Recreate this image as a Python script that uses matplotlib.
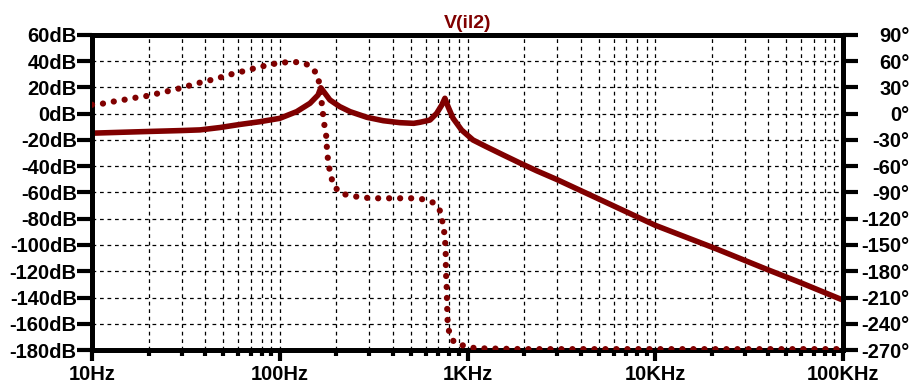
import numpy as np
import matplotlib.pyplot as plt
from matplotlib.ticker import FixedLocator, NullFormatter

plt.rcParams['font.family'] = ['Liberation Sans', 'DejaVu Sans']
plt.rcParams['font.weight'] = 'bold'

# magnitude V(il2), dB
mag_f = [10, 20, 30, 37.6, 48, 61, 78, 100, 123, 145, 160, 165.5,
         185, 209, 237, 291, 356, 437, 517, 558, 631, 685, 730, 758, 788, 838, 930,
         1070, 1255, 1550, 1900, 2340, 2980, 5100, 10000, 21200, 39200, 59000, 100000]
mag_db = [-14.8, -13.5, -12.8, -12.3, -10.5, -8.2, -6.1, -3.5, 1.6, 8, 14.3, 19.8,
          10.5, 5.4, 1.6, -2.7, -5.3, -6.8, -7.3, -6.5, -4.8, 0.3, 6.7, 11.8, 5.4, -3.5, -12.4,
          -20, -25, -31.4, -37.5, -43.5, -50, -65.5, -85, -103, -118.5, -128.5, -142]

# phase, degrees
ph_f = [10, 11.35, 12.9, 14.6, 16.6, 18.8, 21.4, 24.3, 27.5, 31.2, 35.5, 40.4, 45.7,
        51.9, 59, 67, 76, 86.5, 98, 111, 126, 143, 159, 164, 167, 172, 176.5, 178,
        181, 186, 193, 210, 242, 273, 308, 353, 400, 451, 518, 583, 658, 713, 742,
        758, 765, 768, 774, 779, 783, 799, 850, 967, 1101, 2000, 5000, 10000,
        30000, 100000]
ph_deg = [10.3, 11.5, 13.8, 15.7, 18, 19.5, 22.2, 24.9, 27.5, 30.6, 34.3, 37.1, 40,
          43.5, 46.9, 49.5, 53, 55.5, 58, 59, 59, 55.7, 45, 29, 13.8, -10.2, -23.5, -36.9,
          -54.8, -68.5, -81.4, -90.9, -94, -95.5, -96.6, -96.6, -96.6, -96.6, -96.6,
          -97.8, -101.6, -110.8, -127, -141, -157.7, -181.7, -195.7, -220.5, -235.7,
          -250.2, -261.7, -265.4, -268, -269, -269, -269, -269, -269]

dark_red = '#800000'

fig = plt.figure(figsize=(9.09, 3.85), dpi=100)
ax = fig.add_axes([92 / 909, 1 - 350 / 385, 751 / 909, 315 / 385])
ax2 = ax.twinx()

ax.semilogx(mag_f, mag_db, color=dark_red, lw=4.0, solid_capstyle='round',
            solid_joinstyle='round', zorder=3)
ax2.semilogx(ph_f, ph_deg, color=dark_red, lw=4.5, linestyle=(0, (0.01, 1.75)),
             dash_capstyle='round', zorder=3)

ax.set_xlim(10, 100000)
ax.set_ylim(-180, 60)
ax2.set_ylim(-270, 90)

ax.set_xticks([10, 100, 1000, 10000, 100000])
ax.set_xticklabels(['10Hz', '100Hz', '1KHz', '10KHz', '100KHz'])
minors = [d * m for d in [10, 100, 1000, 10000] for m in range(2, 10)]
ax.xaxis.set_minor_locator(FixedLocator(minors))
ax.xaxis.set_minor_formatter(NullFormatter())

db_ticks = np.arange(-180, 61, 20)
ax.set_yticks(db_ticks)
ax.set_yticklabels([f'{v}dB' for v in db_ticks])
ph_ticks = np.arange(-270, 91, 30)
ax2.set_yticks(ph_ticks)
ax2.set_yticklabels([f'{v}°' for v in ph_ticks])

ax.grid(True, which='both', axis='x', color='black', lw=0.9, linestyle=(0, (3, 3)))
ax.grid(True, which='major', axis='y', color='black', lw=0.9, linestyle=(0, (3, 3)))

for a in (ax, ax2):
    for s in a.spines.values():
        s.set_linewidth(3.5)
        s.set_color('black')

ax.tick_params(axis='x', which='major', direction='out', length=8, width=3,
               pad=3, labelsize=14.5)
ax.tick_params(axis='x', which='minor', direction='out', length=4.5, width=3)
ax.tick_params(axis='y', which='major', direction='out', length=11, width=3,
               pad=0, labelsize=14.5)
ax2.tick_params(axis='y', which='major', direction='out', length=11, width=3,
                pad=37, labelsize=14.5)
for lab in ax2.get_yticklabels():
    lab.set_horizontalalignment('right')

ax.set_title('V(il2)', color=dark_red, fontsize=14, fontweight='bold', pad=5)

fig.savefig('out.png', dpi=100)
